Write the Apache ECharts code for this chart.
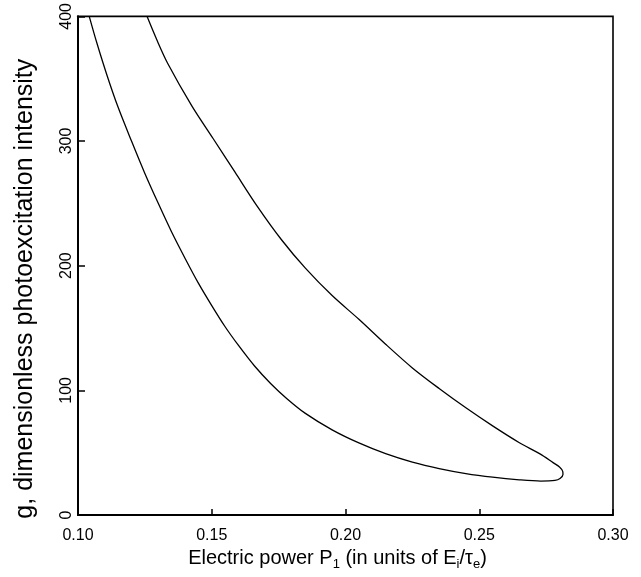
<!DOCTYPE html>
<html>
<head>
<meta charset="utf-8">
<script src="https://cdn.jsdelivr.net/npm/echarts@6/dist/echarts.min.js"></script>
<style>
  html, body { margin: 0; padding: 0; background: #fff; }
  #main { width: 641px; height: 577px; }
</style>
</head>
<body>
<div id="main"></div>
<script>
// upper branch: from the top (P1 ~ 0.126, g = 400) down to the tip near P1 = 0.28
var upperP = [0.1258, 0.1295, 0.1336, 0.1426, 0.1505, 0.1587, 0.1669, 0.1760, 0.1850, 0.1950,
              0.2050, 0.2150, 0.2250, 0.2350, 0.2450, 0.2550, 0.2650, 0.2727, 0.2776, 0.2800,
              0.2812, 0.2813];
var upperG = [400, 381, 362, 328, 302, 275, 248, 221, 198, 176,
              157, 137, 118, 101.5, 86, 71.5, 58, 49, 42, 38.5,
              35, 32.4];
// lower branch: from the tip back up to the top (P1 ~ 0.104, g = 400)
var lowerP = [0.2802, 0.2783, 0.2730, 0.2650, 0.2550, 0.2450, 0.2350, 0.2250, 0.2150, 0.2050,
              0.1950, 0.1850, 0.1780, 0.1720, 0.1660, 0.1600, 0.1550, 0.1500, 0.1450, 0.1400,
              0.1350, 0.1300, 0.1250, 0.1200, 0.1150, 0.1108, 0.1070, 0.1042];
var lowerG = [29.2, 27.7, 27.2, 28.2, 30.3, 33.2, 37.2, 42.4, 49.2, 57.8,
              68.3, 81.5, 93.5, 105.5, 119.5, 136, 151, 168, 186, 206,
              227, 250, 274, 300, 327, 353, 379, 400];

var xTicks = [0.10, 0.15, 0.20, 0.25, 0.30];
var yTicks = [0, 100, 200, 300, 400];

var curve = [];
upperP.forEach(function (p, i) { curve.push([p, upperG[i]]); });
lowerP.forEach(function (p, i) { curve.push([p, lowerG[i]]); });

var font = 'Liberation Sans';
var chart = echarts.init(document.getElementById('main'));
var option = {
    animation: false,
    grid: {
        left: 78, right: 28, top: 9, bottom: 62,
        show: true, borderColor: '#000', borderWidth: 1.6
    },
    xAxis: {
        type: 'value',
        min: xTicks[0], max: xTicks[xTicks.length - 1], interval: 0.05,
        axisLine: { lineStyle: { color: '#000', width: 2 } },
        axisTick: { inside: true, length: 6, lineStyle: { color: '#000', width: 1.5 } },
        splitLine: { show: false },
        axisLabel: {
            color: '#000', fontFamily: font, fontSize: 16, margin: 13,
            formatter: function (v) { return v.toFixed(2); }
        },
        nameLocation: 'middle', nameGap: 22,
        name: '{a|Electric power P}{s|1}{a| (in units of E}{s|i}{a|/τ}{s|e}{a|)}',
        nameTextStyle: {
            padding: [0, 16, 0, 0],
            rich: {
                a: { fontFamily: font, fontSize: 20, color: '#000', lineHeight: 24 },
                s: { fontFamily: font, fontSize: 13, color: '#000', lineHeight: 10, verticalAlign: 'bottom' }
            }
        }
    },
    yAxis: {
        type: 'value',
        min: yTicks[0], max: yTicks[yTicks.length - 1], interval: 100,
        axisLine: { lineStyle: { color: '#000', width: 2 } },
        axisTick: { inside: true, length: 7, lineStyle: { color: '#000', width: 1.5 } },
        splitLine: { show: false },
        axisLabel: { color: '#000', fontFamily: font, fontSize: 16, rotate: 90, margin: 3 },
        name: 'g, dimensionless photoexcitation intensity',
        nameLocation: 'middle', nameGap: 40, nameRotate: 90,
        nameTextStyle: { fontFamily: font, fontSize: 25, color: '#000', padding: [0, 46, 0, 0] }
    },
    series: [{
        type: 'line',
        data: curve,
        showSymbol: false,
        smooth: 0.3,
        clip: true,
        lineStyle: { color: '#000', width: 1.3 }
    }]
};
chart.setOption(option);
</script>
</body>
</html>
